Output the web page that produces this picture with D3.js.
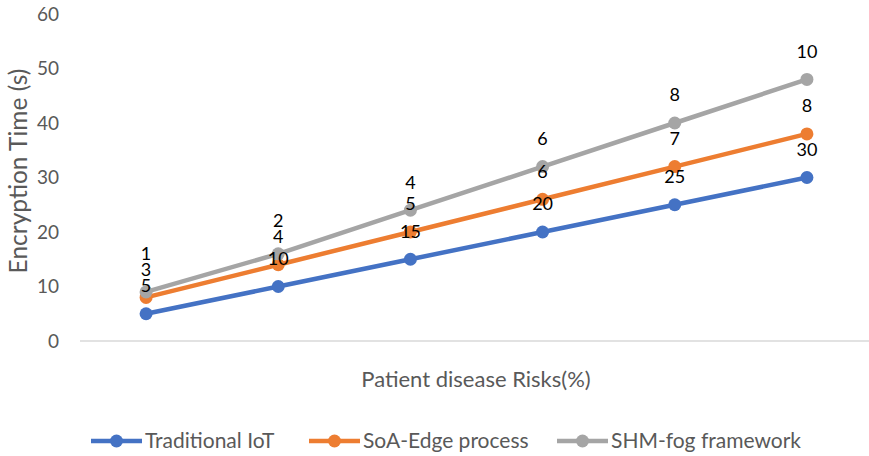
<!DOCTYPE html>
<html>
<head>
<meta charset="utf-8">
<script src="https://cdn.jsdelivr.net/npm/d3@7"></script>
<style>
  body { margin: 0; background: #fff; }
  text { font-family: Lato, "Open Sans", sans-serif; }
</style>
</head>
<body>
<div id="chart-area"></div>
<script>
// data: Excel stacked line chart, labels show each series' own value
var categories = ["1", "2", "3", "4", "5", "6"];
var traditionalIoT = [5, 10, 15, 20, 25, 30];
var soaEdge = [3, 4, 5, 6, 7, 8];
var shmFog = [1, 2, 4, 6, 8, 10];
var seriesNames = ["Traditional IoT", "SoA-Edge process", "SHM-fog framework"];
var yTicks = [0, 10, 20, 30, 40, 50, 60];
var colors = ["#4472C4", "#ED7D31", "#A5A5A5"];

var width = 869, height = 456;
var margin = {top: 14, right: -4, bottom: 115, left: 80};
var innerW = width - margin.left - margin.right,
    innerH = height - margin.top - margin.bottom;

var svg = d3.select("#chart-area").append("svg")
    .attr("width", width)
    .attr("height", height);
var g = svg.append("g")
    .attr("transform", "translate(" + margin.left + "," + margin.top + ")");

// scales
var x = d3.scaleBand().domain(categories).range([0, innerW]);
var y = d3.scaleLinear().domain([0, 60]).range([innerH, 0]);

// stack the series
var rows = categories.map(function(c, i) {
    return {cat: c, s0: traditionalIoT[i], s1: soaEdge[i], s2: shmFog[i]};
});
var stacked = d3.stack().keys(["s0", "s1", "s2"])(rows);

// y axis labels
var yAxis = g.append("g")
    .call(d3.axisLeft(y).tickValues(yTicks).tickSize(0).tickPadding(21));
yAxis.select(".domain").remove();
yAxis.selectAll("text")
    .attr("fill", "#595959")
    .style("font-size", "19px");

// x axis line
g.append("line")
    .attr("x1", 0).attr("x2", innerW)
    .attr("y1", y(0)).attr("y2", y(0))
    .attr("stroke", "#d9d9d9")
    .attr("stroke-width", 1.5);

// axis titles
svg.append("text")
    .attr("transform", "translate(27,171) rotate(-90)")
    .attr("text-anchor", "middle")
    .attr("fill", "#595959")
    .style("font-size", "24.5px")
    .text("Encryption Time (s)");

svg.append("text")
    .attr("x", 476)
    .attr("y", 387)
    .attr("text-anchor", "middle")
    .attr("fill", "#595959")
    .style("font-size", "22px")
    .text("Patient disease Risks(%)");

var cx = function(d) { return x(d.data.cat) + x.bandwidth() / 2; };

var line = d3.line()
    .x(cx)
    .y(function(d) { return y(d[1]); });

stacked.forEach(function(layer, k) {
    g.append("path")
        .attr("fill", "none")
        .attr("stroke", colors[k])
        .attr("stroke-width", 4.5)
        .attr("stroke-linejoin", "round")
        .attr("d", line(layer));

    g.selectAll(".dot" + k)
        .data(layer)
        .enter().append("circle")
        .attr("cx", cx)
        .attr("cy", function(d) { return y(d[1]); })
        .attr("r", 6.5)
        .attr("fill", colors[k]);
});

// data labels: 28px above the point, pushed up when they would sit on the label below
var labelY = stacked.map(function(layer) { return layer.map(function(d) { return y(d[1]) - 28; }); });
for (var k = 1; k < labelY.length; k++) {
    labelY[k] = labelY[k].map(function(v, i) { return Math.min(v, labelY[k - 1][i] - 16); });
}
stacked.forEach(function(layer, k) {
    g.selectAll(".lbl" + k)
        .data(layer)
        .enter().append("text")
        .attr("x", cx)
        .attr("y", function(d, i) { return labelY[k][i]; })
        .attr("dy", "0.35em")
        .attr("text-anchor", "middle")
        .attr("fill", "#000")
        .style("font-size", "18px")
        .text(function(d) { return d[1] - d[0]; });
});

// legend
var legendX = [91, 309, 557];
var legend = svg.selectAll(".legend")
    .data(seriesNames)
    .enter().append("g")
    .attr("transform", function(d, i) { return "translate(" + legendX[i] + ",441)"; });
legend.append("line")
    .attr("x1", 0).attr("x2", 51)
    .attr("stroke", function(d, i) { return colors[i]; })
    .attr("stroke-width", 4.5);
legend.append("circle")
    .attr("cx", 25.5).attr("r", 6.5)
    .attr("fill", function(d, i) { return colors[i]; });
legend.append("text")
    .attr("x", 54)
    .attr("y", 7)
    .attr("fill", "#595959")
    .style("font-size", "21px")
    .text(function(d) { return d; });
</script>
</body>
</html>
